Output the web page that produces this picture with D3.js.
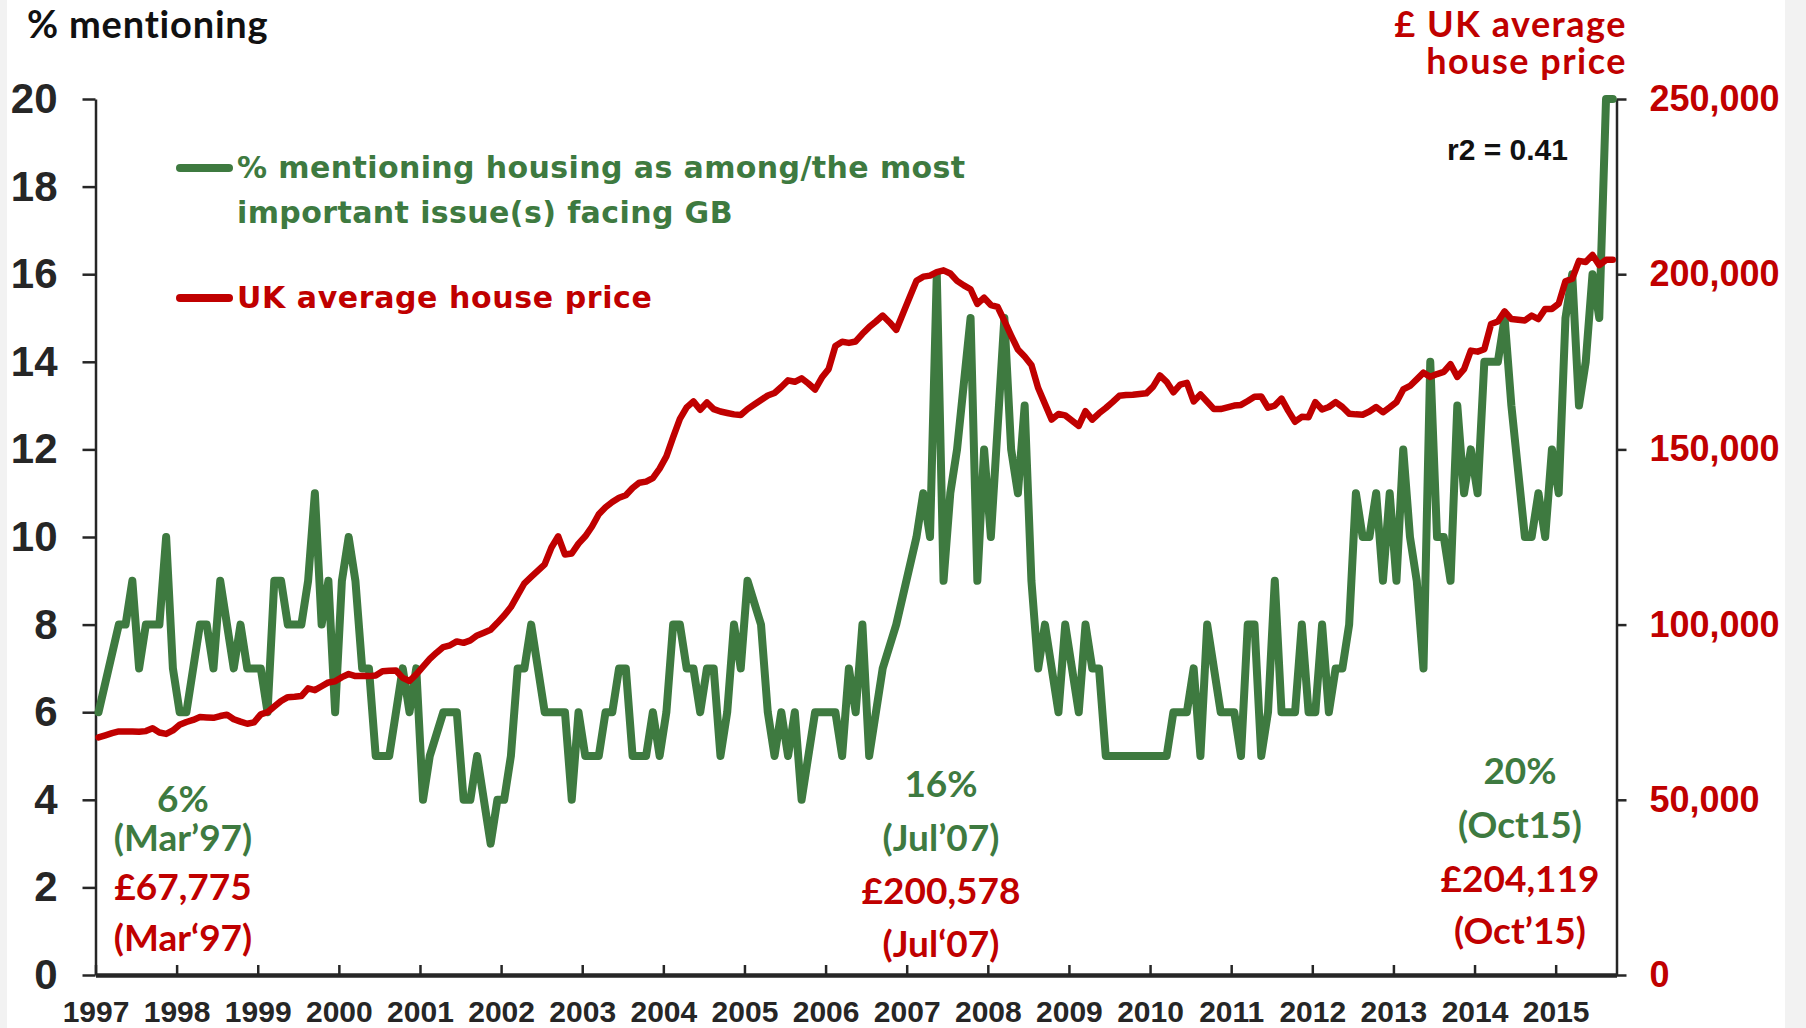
<!DOCTYPE html>
<html>
<head>
<meta charset="utf-8">
<script src="https://cdn.jsdelivr.net/npm/d3@7"></script>
<style>
  body { margin: 0; background: #fff; }
  svg { display: block; }
</style>
</head>
<body>
<svg id="chart" width="1806" height="1028"></svg>
<script>
// tick labels for the bottom axis, one every 12 points
const years = [1997, 1998, 1999, 2000, 2001, 2002, 2003, 2004, 2005, 2006,
               2007, 2008, 2009, 2010, 2011, 2012, 2013, 2014, 2015];

// % mentioning housing (monthly, Mar'97 -> Oct'15). null = no reading, line runs straight through
const pctMentioning = [
  6, null, null, 8, 8, 9, 7, 8, 8, 8, 10, 7,
  6, 6, null, 8, 8, 7, 9, null, 7, 8, 7, 7,
  7, 6, 9, 9, 8, 8, 8, 9, 11, 8, 9, 6,
  9, 10, 9, 7, 7, 5, 5, 5, null, 7, 6, 7,
  4, 5, null, 6, 6, 6, 4, 4, 5, null, 3, 4,
  4, 5, 7, 7, 8, null, 6, 6, 6, 6, 4, 6,
  5, 5, 5, 6, 6, 7, 7, 5, 5, 5, 6, 5,
  6, 8, 8, 7, 7, 6, 7, 7, 5, 6, 8, 7,
  9, null, 8, 6, 5, 6, 5, 6, 4, null, 6, 6,
  6, 6, 5, 7, 6, 8, 5, null, 7, null, 8, null,
  null, 10, 11, 10, 16, 9, 11, 12, null, 15, 9, 12,
  10, null, 15, 12, 11, 13, 9, 7, 8, null, 6, 8,
  null, 6, 8, 7, 7, 5, 5, 5, 5, 5, 5, 5,
  5, 5, 5, 6, 6, 6, 7, 5, 8, null, 6, 6,
  6, 5, 8, 8, 5, 6, 9, 6, 6, 6, 8, 6,
  6, 8, 6, 7, 7, 8, 11, 10, 10, 11, 9, 11,
  9, 12, 10, 9, 7, 14, 10, 10, 9, 13, 11, 12,
  11, 14, 14, 14, 15, 13, null, 10, 10, 11, 10, 12,
  11, 15, 16, 13, 14, 16, 15, 20, 20
];

// UK average house price, £ thousands, same months
const housePriceK = [
  67.8, 68.4, 69.0, 69.5, 69.5, 69.5, 69.4, 69.6, 70.4, 69.2, 68.8, 69.8,
  71.4, 72.2, 72.8, 73.6, 73.5, 73.4, 73.9, 74.3, 73.0, 72.3, 71.7, 72.1,
  74.4, 75.0, 76.6, 78.2, 79.3, 79.4, 79.6, 81.8, 81.3, 82.4, 83.5, 83.8,
  85.0, 85.9, 85.3, 85.3, 85.3, 85.5, 86.7, 86.8, 86.9, 84.8, 83.9, 85.8,
  88.0, 90.2, 92.0, 93.6, 94.1, 95.2, 94.8, 95.5, 96.9, 97.7, 98.5, 100.5,
  102.6, 105.0, 108.4, 111.8, 113.6, 115.4, 117.2, 122.0, 125.2, 120.0, 120.3, 123.1,
  125.2, 128.0, 131.5, 133.5, 135.0, 136.2, 136.9, 139.0, 140.5, 140.8, 141.8, 144.5,
  148.0, 153.5, 158.7, 162.0, 163.7, 161.3, 163.4, 161.5, 160.8, 160.4, 160.0, 159.8,
  161.5, 162.8, 164.1, 165.4, 166.1, 167.8, 169.7, 169.3, 170.3, 168.8, 167.1, 170.5,
  172.9, 179.5, 180.7, 180.4, 180.8, 183.0, 184.9, 186.5, 188.2, 186.3, 184.1, 188.8,
  193.5, 198.1, 199.3, 199.6, 200.6, 201.1, 200.2, 198.1, 196.8, 195.7, 191.5, 193.3,
  191.2, 190.7, 186.7, 182.5, 178.5, 176.5, 174.1, 167.5, 163.0, 158.5, 160.1, 159.7,
  158.2, 156.7, 160.9, 158.5, 160.3, 161.8, 163.5, 165.3, 165.5, 165.6, 165.8, 166.0,
  167.9, 171.1, 169.3, 166.3, 168.5, 169.0, 163.7, 165.7, 163.6, 161.5, 161.5, 162.0,
  162.5, 162.7, 163.8, 165.0, 165.1, 161.9, 162.5, 164.5, 161.0, 157.9, 159.3, 159.2,
  163.5, 161.4, 162.1, 163.5, 162.1, 160.2, 160.0, 159.9, 160.8, 162.1, 160.6, 162.0,
  163.5, 167.1, 168.1, 170.0, 171.9, 170.7, 171.5, 172.1, 174.3, 170.7, 172.9, 178.2,
  177.9, 178.6, 185.8, 186.5, 189.4, 187.2, 187.0, 186.8, 188.2, 187.2, 190.1, 190.1,
  191.6, 198.0, 198.7, 203.8, 203.5, 205.5, 202.6, 204.1, 204.1
];

const pctTicks = [0, 2, 4, 6, 8, 10, 12, 14, 16, 18, 20];
const priceTicks = [0, 50, 100, 150, 200, 250];

const GREEN = "#3e7a40";
const RED = "#c00000";
const AXIS = "#262626";
const NUM_FONT = "'Liberation Sans', Arial, sans-serif";
const WIDE_FONT = "'DejaVu Sans', Verdana, sans-serif";
const ROUND_FONT = "Lato, 'Noto Sans', sans-serif";

const svg = d3.select("#chart");

// grey page edges
svg.append("rect").attr("x", 0).attr("y", 0).attr("width", 7).attr("height", 1028).attr("fill", "#f2f2f2");
svg.append("rect").attr("x", 1785).attr("y", 0).attr("width", 21).attr("height", 1028).attr("fill", "#f2f2f2");

const plotLeft = 95.5, plotRight = 1616.5, plotTop = 99, plotBottom = 975;

const x = d3.scaleLinear().domain([0, 225]).range([plotLeft, plotRight]);
const yPct = d3.scaleLinear().domain([0, 20]).range([plotBottom, plotTop]);
const yPrice = d3.scaleLinear().domain([0, 250]).range([plotBottom, plotTop]);
const pointX = i => x(i + 0.45);

// left axis
const gLeft = svg.append("g")
    .attr("transform", `translate(${plotLeft},0)`)
    .call(d3.axisLeft(yPct).tickValues(pctTicks).tickSize(13).tickSizeOuter(0).tickPadding(25));
gLeft.selectAll("text")
    .attr("font-family", NUM_FONT).attr("font-weight", "bold").attr("font-size", 42).attr("fill", AXIS);

// right axis
const gRight = svg.append("g")
    .attr("transform", `translate(${plotRight},0)`)
    .call(d3.axisRight(yPrice).tickValues(priceTicks).tickSize(10).tickSizeOuter(0).tickPadding(23)
        .tickFormat(d => d3.format(",")(d * 1000)));
gRight.selectAll("text")
    .attr("font-family", NUM_FONT).attr("font-weight", "bold").attr("font-size", 36).attr("fill", RED);

// bottom axis, ticks pointing up
const gBottom = svg.append("g")
    .attr("transform", `translate(0,${plotBottom})`)
    .call(d3.axisBottom(x).tickValues(years.map((y, i) => i * 12)).tickFormat((d, i) => years[i])
        .tickSize(-10).tickSizeOuter(0).tickPadding(26));
gBottom.selectAll("text")
    .attr("font-family", NUM_FONT).attr("font-weight", "bold").attr("font-size", 30).attr("fill", AXIS);

[gLeft, gRight, gBottom].forEach(g => {
    g.selectAll("line").attr("stroke", AXIS).attr("stroke-width", 2.5);
    g.select(".domain").attr("stroke", AXIS).attr("stroke-width", 2.5);
});
gBottom.select(".domain").attr("stroke-width", 4.5);

// series
const pctPoints = pctMentioning.map((v, i) => [i, v]).filter(d => d[1] !== null);
const pricePoints = housePriceK.map((v, i) => [i, v]);

svg.append("path")
    .datum(pctPoints)
    .attr("fill", "none")
    .attr("stroke", GREEN)
    .attr("stroke-width", 8)
    .attr("stroke-linejoin", "round")
    .attr("stroke-linecap", "round")
    .attr("d", d3.line().x(d => pointX(d[0])).y(d => yPct(d[1])));

svg.append("path")
    .datum(pricePoints)
    .attr("fill", "none")
    .attr("stroke", RED)
    .attr("stroke-width", 6.5)
    .attr("stroke-linejoin", "round")
    .attr("stroke-linecap", "round")
    .attr("d", d3.line().x(d => pointX(d[0])).y(d => yPrice(d[1])));

// axis titles
svg.append("text")
    .attr("x", 27).attr("y", 38)
    .attr("font-family", ROUND_FONT).attr("font-weight", "bold").attr("font-size", 38)
    .attr("letter-spacing", 0.8)
    .attr("fill", "#111").text("% mentioning");

svg.append("text")
    .attr("text-anchor", "end")
    .attr("font-family", ROUND_FONT).attr("font-weight", "bold").attr("font-size", 36)
    .attr("letter-spacing", 1.5)
    .attr("fill", RED)
    .selectAll("tspan")
    .data(["£ UK average", "house price"])
    .join("tspan")
    .attr("x", 1627)
    .attr("y", (d, i) => 37 + i * 37)
    .text(d => d);

// legend
const legend = [
    {color: GREEN, y: 168, spacing: 0.4, lines: ["% mentioning housing as among/the most", "important issue(s) facing GB"]},
    {color: RED, y: 298, spacing: 0.6, lines: ["UK average house price"]}
];
legend.forEach(item => {
    svg.append("line")
        .attr("x1", 180).attr("x2", 229)
        .attr("y1", item.y).attr("y2", item.y)
        .attr("stroke", item.color).attr("stroke-width", 8).attr("stroke-linecap", "round");
    svg.append("text")
        .attr("font-family", WIDE_FONT).attr("font-weight", "bold").attr("font-size", 30)
        .attr("letter-spacing", item.spacing)
        .attr("fill", item.color)
        .selectAll("tspan")
        .data(item.lines)
        .join("tspan")
        .attr("x", 237)
        .attr("y", (d, i) => item.y + 10 + i * 45)
        .text(d => d);
});

svg.append("text")
    .attr("x", 1447).attr("y", 160)
    .attr("font-family", NUM_FONT).attr("font-weight", "bold").attr("font-size", 30)
    .attr("fill", "#111").text("r2 = 0.41");

// call-outs
const notes = [
    {cx: 183, items: [["6%", GREEN, 812], ["(Mar’97)", GREEN, 851], ["£67,775", RED, 900], ["(Mar‘97)", RED, 951]]},
    {cx: 941, items: [["16%", GREEN, 797], ["(Jul’07)", GREEN, 851], ["£200,578", RED, 904], ["(Jul‘07)", RED, 957]]},
    {cx: 1520, items: [["20%", GREEN, 784], ["(Oct15)", GREEN, 838], ["£204,119", RED, 892], ["(Oct’15)", RED, 944]]}
];
notes.forEach(n => {
    n.items.forEach(([t, c, yy]) => {
        svg.append("text")
            .attr("x", n.cx).attr("y", yy)
            .attr("text-anchor", "middle")
            .attr("font-family", ROUND_FONT).attr("font-weight", "bold").attr("font-size", 37)
            .attr("fill", c).text(t);
    });
});
</script>
</body>
</html>
